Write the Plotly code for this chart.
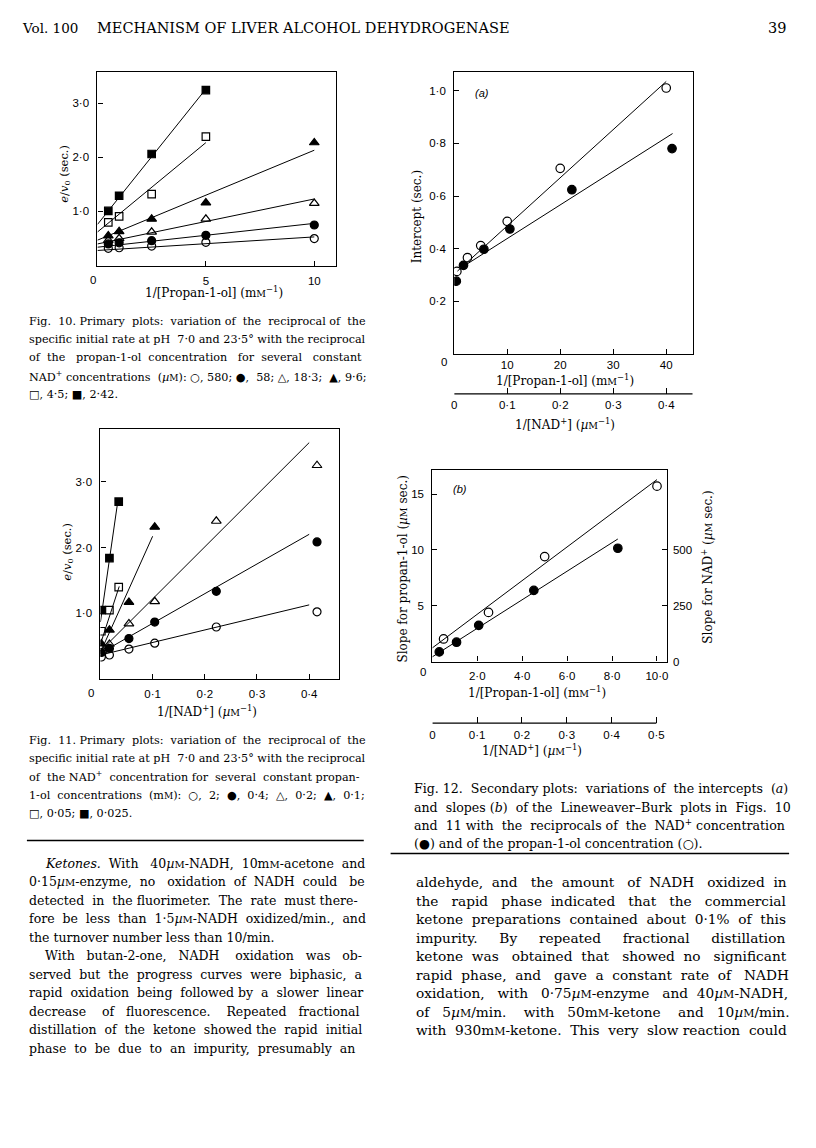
import re
import plotly.graph_objects as go

# page is 816 x 1148; the browser puts an 8 px body margin round the figure
OFF = 8
FW, FH = 816 - 2 * OFF, 1148 - 2 * OFF

# ---------------- data ----------------
# Fig. 10: e/v0 against 1/[propan-1-ol], one series per NAD+ concentration
f10_x = [0.5, 1.0, 2.5, 5.0, 10.0]
f10_open_circle = [0.32, 0.33, 0.36, 0.43, 0.50]      # 580 uM
f10_filled_circle = [0.40, 0.42, 0.46, 0.56, 0.75]    # 58
f10_open_tri = [0.47, 0.50, 0.62, 0.86, 1.15]         # 18.3
f10_filled_tri = [0.55, 0.63, 0.86, 1.16, 2.27]       # 9.6
f10_open_sq = [0.80, 0.91, 1.32, 2.38]                # 4.5
f10_filled_sq = [1.01, 1.29, 2.06, 3.24]              # 2.42
f10_intercepts = [0.28, 0.34, 0.40, 0.47, 0.62, 0.76]
f10_slopes = [0.025, 0.044, 0.083, 0.166, 0.33, 0.50]
f10_line_end = [10, 10, 10, 10, 5, 5]

# Fig. 11: e/v0 against 1/[NAD+], one series per propan-1-ol concentration
f11_x = [0.0017, 0.0172, 0.0546, 0.104, 0.222, 0.415]
f11_sq_x = [0.0017, 0.0172, 0.035]
f11_open_circle = [0.34, 0.37, 0.46, 0.55, 0.795, 1.025]   # 2 mM
f11_filled_circle = [0.41, 0.47, 0.62, 0.87, 1.335, 2.085] # 0.4
f11_open_tri = [0.47, 0.535, 0.845, 1.18, 2.40, 3.245]     # 0.2
f11_filled_tri = [0.54, 0.75, 1.17, 2.31]                  # 0.1
f11_open_sq = [0.73, 1.05, 1.40]                           # 0.05
f11_filled_sq = [1.05, 1.84, 2.695]                        # 0.025
f11_intercepts = [0.37, 0.40, 0.43, 0.41, 0.535, 0.87]
f11_slopes = [1.9, 4.5, 7.9, 17.6, 24.3, 55.0]
f11_line_end = [0.40, 0.40, 0.40, 0.10, 0.036, 0.033]

# Fig. 12a: intercepts
f12a_prop_x = [0.5, 2.5, 5.0, 10.0, 20.0, 40.0]
f12a_prop_y = [0.314, 0.366, 0.412, 0.504, 0.705, 1.01]
f12a_nad_x = [0.004, 0.0175, 0.056, 0.105, 0.222, 0.411]
f12a_nad_y = [0.277, 0.337, 0.398, 0.475, 0.624, 0.78]
f12a_prop_fit = (0.304, 0.01827, 0.6, 40.0)   # intercept, slope, x from, x to
f12a_nad_fit = (0.311, 1.277, 0.015, 0.412)

# Fig. 12b: slopes (left scale, uM sec; right scale is 50x)
f12b_prop_x = [0.5, 2.5, 5.0, 10.0]
f12b_prop_y = [2.02, 4.40, 9.40, 15.71]
f12b_nad_x = [0.0155, 0.054, 0.1035, 0.2265, 0.414]
f12b_nad_y = [0.86, 1.73, 3.24, 6.37, 10.15]
f12b_prop_fit = (1.22, 1.508, 0.0, 10.0)
f12b_nad_fit = (0.42, 25.5, 0.0, 0.414)


def fx(p):
    return (p - OFF) / FW


def fy(p):
    return 1 - (p - OFF) / FH


SERIF = 'DejaVu Serif'
SANS = 'Liberation Sans'


def sc(size):
    # small capital M as used for mM / uM
    return "<span style='font-size:%gpx'>M</span>" % size


fig = go.Figure()

symbols = ['circle-open', 'circle', 'triangle-up-open', 'triangle-up', 'square-open', 'square']
sizes = [8, 8, 8.5, 8.5, 7.5, 7.5]


def add_points(x, y, sym, size, xa, ya):
    fig.add_trace(go.Scatter(
        x=x, y=y, mode='markers', xaxis=xa, yaxis=ya,
        marker=dict(symbol=sym, size=size, color='black', line=dict(color='black', width=1.2))))


def add_fit(b, m, x0, x1, xa, ya):
    fig.add_trace(go.Scatter(
        x=[x0, x1], y=[b + m * x0, b + m * x1], mode='lines', xaxis=xa, yaxis=ya,
        line=dict(color='black', width=1)))


# Fig. 10
f10_series = [f10_open_circle, f10_filled_circle, f10_open_tri, f10_filled_tri, f10_open_sq, f10_filled_sq]
for i, ys in enumerate(f10_series):
    add_fit(f10_intercepts[i], f10_slopes[i], 0, f10_line_end[i], 'x', 'y')
    add_points(f10_x[:len(ys)], ys, symbols[i], sizes[i], 'x', 'y')

# Fig. 11
f11_series = [f11_open_circle, f11_filled_circle, f11_open_tri, f11_filled_tri, f11_open_sq, f11_filled_sq]
for i, ys in enumerate(f11_series):
    xs = f11_sq_x if i >= 4 else f11_x[:len(ys)]
    add_fit(f11_intercepts[i], f11_slopes[i], 0, f11_line_end[i], 'x2', 'y2')
    add_points(xs, ys, symbols[i], sizes[i], 'x2', 'y2')

# Fig. 12a
add_fit(*f12a_prop_fit, 'x3', 'y3')
add_fit(*f12a_nad_fit, 'x5', 'y3')
add_points(f12a_prop_x, f12a_prop_y, 'circle-open', 8.5, 'x3', 'y3')
add_points(f12a_nad_x, f12a_nad_y, 'circle', 8.5, 'x5', 'y3')

# Fig. 12b
add_fit(*f12b_prop_fit, 'x4', 'y4')
add_fit(*f12b_nad_fit, 'x6', 'y4')
add_points(f12b_prop_x, f12b_prop_y, 'circle-open', 8.5, 'x4', 'y4')
add_points(f12b_nad_x, f12b_nad_y, 'circle', 8.5, 'x6', 'y4')

tickfont = dict(family=SANS, size=11.5, color='black')
base = dict(showline=True, linecolor='black', linewidth=1.2, mirror=True, ticks='inside',
            ticklen=5, tickwidth=1, tickcolor='black', showgrid=False, zeroline=False,
            tickfont=tickfont, fixedrange=True)


def xa(dom, rng, vals, text, anchor, standoff=4):
    return dict(base, domain=[fx(dom[0]), fx(dom[1])], range=rng, tickvals=vals,
                ticktext=text, anchor=anchor, ticklabelstandoff=standoff)


def ya(dom, rng, vals, text, anchor):
    return dict(base, domain=[fy(dom[1]), fy(dom[0])], range=rng, tickvals=vals,
                ticktext=text, anchor=anchor, ticklabelstandoff=5)


def nad_axis(dom, rng, over, pos, vals, text):
    return dict(showline=False, ticks='inside', ticklen=6, tickwidth=1, tickcolor='black',
                showgrid=False, zeroline=False, tickfont=tickfont, fixedrange=True,
                domain=[fx(dom[0]), fx(dom[1])], range=rng, overlaying=over,
                anchor='free', position=fy(pos), tickvals=vals, ticktext=text,
                ticklabelstandoff=3)


fig.update_layout(
    width=FW, height=FH, margin=dict(l=0, r=0, t=0, b=0),
    paper_bgcolor='white', plot_bgcolor='white', showlegend=False,
    xaxis=xa((95, 335), [0, 11], [5, 10], ['5', '10'], 'y'),
    yaxis=ya((72, 267), [0, 3.58], [1, 2, 3], ['1·0', '2·0', '3·0'], 'x'),
    xaxis2=xa((98, 338), [0, 0.457], [0.1, 0.2, 0.3, 0.4], ['0·1', '0·2', '0·3', '0·4'], 'y2'),
    yaxis2=ya((431, 683), [0, 3.8], [1, 2, 3], ['1·0', '2·0', '3·0'], 'x2'),
    xaxis3=xa((454, 694), [0, 45], [10, 20, 30, 40], ['10', '20', '30', '40'], 'y3', 0),
    yaxis3=ya((72, 356), [0, 1.072], [0.2, 0.4, 0.6, 0.8, 1.0],
              ['0·2', '0·4', '0·6', '0·8', '1·0'], 'x3'),
    xaxis4=xa((432, 668), [0, 10.44], [2, 4, 6, 8, 10], ['2·0', '4·0', '6·0', '8·0', '10·0'], 'y4'),
    yaxis4=ya((472, 665), [0, 17.2], [5, 10, 15], ['5', '10', '15'], 'x4'),
    yaxis5=dict(showline=False, ticks='inside', ticklen=5, tickwidth=1, tickcolor='black',
                showgrid=False, zeroline=False, tickfont=tickfont, fixedrange=True,
                overlaying='y4', side='right', anchor='x4', range=[0, 860],
                tickvals=[0, 250, 500], ticktext=['0', '250', '500'], ticklabelstandoff=5),
    xaxis5=nad_axis((454, 694), [0, 0.45], 'x3', 396, [0, 0.1, 0.2, 0.3, 0.4, 0.45],
                    ['0', '0·1', '0·2', '0·3', '0·4', '']),
    xaxis6=nad_axis((432, 668), [0, 0.5235], 'x4', 727, [0, 0.1, 0.2, 0.3, 0.4, 0.5],
                    ['0', '0·1', '0·2', '0·3', '0·4', '0·5']),
)
# a dummy point keeps the right-hand scale of Fig. 12b alive
fig.add_trace(go.Scatter(x=[0], y=[0], xaxis='x4', yaxis='y5', mode='markers',
                         marker=dict(size=1, opacity=0), hoverinfo='skip'))

# base lines of the two NAD+ scales
fig.add_shape(type='line', xref='x5', yref='paper', x0=0, x1=0.45, y0=fy(396), y1=fy(396),
              line=dict(color='black', width=1.2))
fig.add_shape(type='line', xref='x6', yref='paper', x0=0, x1=0.5, y0=fy(727), y1=fy(727),
              line=dict(color='black', width=1.2))

# column rules
fig.add_shape(type='line', xref='paper', yref='paper', x0=fx(24), x1=fx(363), y0=fy(845), y1=fy(845),
              line=dict(color='black', width=1.5))
fig.add_shape(type='line', xref='paper', yref='paper', x0=fx(390), x1=fx(791), y0=fy(858), y1=fy(858),
              line=dict(color='black', width=1.5))


def text(t, x, y, size, family=SERIF, xanchor='left', angle=0):
    fig.add_annotation(text=t, x=fx(x), y=fy(y), xref='paper', yref='paper', showarrow=False,
                       xanchor=xanchor, yanchor='middle', textangle=angle,
                       font=dict(family=family, size=size, color='black'))


# rough advance widths (1/2048 em) for spreading justified lines
ADV = dict(zip(' .,:;-/()[]%·°–−µ+0123456789',
               [651, 651, 651, 690, 690, 739, 690, 799, 799, 799, 799, 1946, 651, 1042, 1024,
                1716, 1300, 1716] + [1303] * 10))
ADV.update(zip('abcdefghijklmnopqrstuvwxyz',
               [1255, 1300, 1126, 1300, 1260, 721, 1300, 1298, 569, 569, 1186, 569, 1995,
                1298, 1253, 1300, 1300, 842, 1067, 803, 1298, 1212, 1675, 1212, 1212, 1075]))
ADV.update(zip('ABCDEFGHIJKLMNOPQRSTUVWXYZ',
               [1401, 1405, 1430, 1577, 1294, 1178, 1587, 1540, 604, 604, 1343, 1141, 1767,
                1532, 1612, 1235, 1612, 1423, 1300, 1251, 1499, 1401, 2025, 1403, 1251, 1403]))
K = 1.03


def width(s, size):
    s = re.sub(r'<[^>]+>', '', s)
    w = 0
    for c in s:
        w += 0.8 * ADV['M'] if c == '¤' else ADV.get(c, 1400)
    return w / 2048 * size * K


def justify(line, target, size, last=False):
    words = line.split()
    sp = 651 / 2048 * size * K
    out = words[0]
    if not last and len(words) > 1:
        ideal = (target - sum(width(w, size) for w in words)) / (len(words) - 1)
    else:
        ideal = sp
    acc_ideal = acc_real = 0
    for w in words[1:]:
        acc_ideal += max(ideal, sp)
        k = max(1, round((acc_ideal - acc_real) / sp))
        acc_real += k * sp
        out += ' ' + '\u00a0' * (k - 1) + w
    return out


def block(lines, x0, y0, step, size, target, indents=None, last=()):
    small_m = sc(round(size * 0.8, 1))
    for i, t in enumerate(lines):
        ind = indents[i] if indents else 0
        s = justify(t, target - ind, size, i in last)
        text(s.replace('¤', small_m), x0 + ind, y0 + step * i, size)


# running head
text('Vol. 100', 17, 28, 13.5)
text('MECHANISM OF LIVER ALCOHOL DEHYDROGENASE', 302, 28, 14.5, xanchor='center')
text('39', 790, 28, 14.5, xanchor='right')

# axis titles
prop_title = '1/[Propan-1-ol] (m' + sc(9.5) + '<sup>−1</sup>)'
nad_title = '1/[NAD<sup>+</sup>] (<i>µ</i>' + sc(9.5) + '<sup>−1</sup>)'
ev_title = '<i>e</i>/<i>v</i><sub>0</sub> (sec.)'
text(prop_title, 212, 294, 12, xanchor='center')
text(ev_title, 61, 175, 11.5, xanchor='center', angle=-90)
text(nad_title, 205, 715, 12, xanchor='center')
text(ev_title, 64, 555, 11.5, xanchor='center', angle=-90)
text(prop_title, 565, 382, 12, xanchor='center')
text('Intercept (sec.)', 416, 218, 12, xanchor='center', angle=-90)
text(nad_title, 565, 426, 12, xanchor='center')
text(prop_title, 537, 696, 12, xanchor='center')
text('Slope for propan-1-ol (<i>µ</i>' + sc(9.5) + ' sec.)', 402, 572, 12, xanchor='center', angle=-90)
text('Slope for NAD<sup>+</sup> (<i>µ</i>' + sc(9.5) + ' sec.)', 708, 570, 12, xanchor='center', angle=-90)
text(nad_title, 532, 754, 12, xanchor='center')

# corner zeros and panel letters
for zx, zy in [(91, 281), (88, 697), (444, 364), (423, 676)]:
    text('0', zx, zy, 11.5, family=SANS, xanchor='center')
text('<i>(a)</i>', 482, 93, 11, family=SANS, xanchor='center')
text('<i>(b)</i>', 460, 492, 11, family=SANS, xanchor='center')

# captions
cap10 = [
    'Fig. 10. Primary plots: variation of the reciprocal of the',
    'specific initial rate at pH 7·0 and 23·5° with the reciprocal',
    'of the propan-1-ol concentration for several constant',
    'NAD<sup>+</sup> concentrations (<i>µ</i>¤): ○, 580; ●, 58; △, 18·3; ▲, 9·6;',
    '□, 4·5; ■, 2·42.',
]
cap11 = [
    'Fig. 11. Primary plots: variation of the reciprocal of the',
    'specific initial rate at pH 7·0 and 23·5° with the reciprocal',
    'of the NAD<sup>+</sup> concentration for several constant propan-',
    '1-ol concentrations (m¤): ○, 2; ●, 0·4; △, 0·2; ▲, 0·1;',
    '□, 0·05; ■, 0·025.',
]
cap12 = [
    'Fig. 12. Secondary plots: variations of the intercepts (<i>a</i>)',
    'and slopes (<i>b</i>) of the Lineweaver–Burk plots in Figs. 10',
    'and 11 with the reciprocals of the NAD<sup>+</sup> concentration',
    '(●) and of the propan-1-ol concentration (○).',
]
block(cap10, 24, 323, 18.4, 11.2, 339, last=(4,))
block(cap11, 24, 744, 18.5, 11.2, 339, last=(4,))
block(cap12, 412, 793, 18.4, 12.6, 379, last=(3,))

# body text
left_body = [
    '<i>Ketones.</i> With 40<i>µ</i>¤-NADH, 10m¤-acetone and',
    '0·15<i>µ</i>¤-enzyme, no oxidation of NADH could be',
    'detected in the fluorimeter. The rate must there-',
    'fore be less than 1·5<i>µ</i>¤-NADH oxidized/min., and',
    'the turnover number less than 10/min.',
    'With butan-2-one, NADH oxidation was ob-',
    'served but the progress curves were biphasic, a',
    'rapid oxidation being followed by a slower linear',
    'decrease of fluorescence. Repeated fractional',
    'distillation of the ketone showed the rapid initial',
    'phase to be due to an impurity, presumably an',
]
right_body = [
    'aldehyde, and the amount of NADH oxidized in',
    'the rapid phase indicated that the commercial',
    'ketone preparations contained about 0·1% of this',
    'impurity. By repeated fractional distillation',
    'ketone was obtained that showed no significant',
    'rapid phase, and gave a constant rate of NADH',
    'oxidation, with 0·75<i>µ</i>¤-enzyme and 40<i>µ</i>¤-NADH,',
    'of 5<i>µ</i>¤/min. with 50m¤-ketone and 10<i>µ</i>¤/min.',
    'with 930m¤-ketone. This very slow reaction could',
]
block(left_body, 24, 868, 18.6, 12.5, 338, indents=[16, 0, 0, 0, 0, 16, 0, 0, 0, 0, 0], last=(4,))
block(right_body, 414, 887, 18.6, 13.7, 377)

fig.write_html("out.html")
